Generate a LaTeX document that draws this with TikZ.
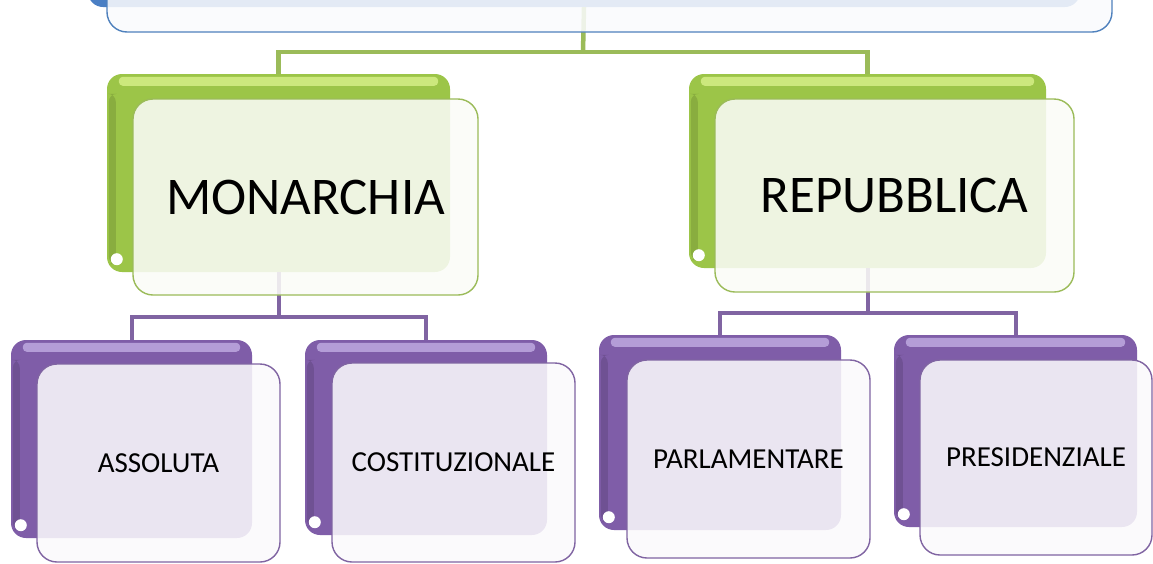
\documentclass[tikz,border=0pt]{standalone}
\usepackage{fontspec}
\setmainfont{Carlito}
\definecolor{gline}{HTML}{9BBB59}
\definecolor{gback}{HTML}{9CC548}
\definecolor{ghi}{HTML}{DDF590}
\definecolor{pline}{HTML}{8064A2}
\definecolor{pback}{HTML}{7F5DA8}
\definecolor{phi}{HTML}{C7B3E8}
\definecolor{bline}{HTML}{4F81BD}
\definecolor{bback}{HTML}{4A7FC4}
\tikzset{
  gconn/.style={draw=gline, line width=4.5pt},
  pconn/.style={draw=pline, line width=4pt},
  backbox/.style={rectangle, rounded corners=15pt, inner sep=0pt},
  gbackbox/.style={backbox, fill=gback},
  pbackbox/.style={backbox, fill=pback},
  frontbox/.style={rectangle, rounded corners=20pt, inner sep=0pt, line width=1.4pt, fill opacity=0.87, text opacity=1, draw opacity=1},
  gfront/.style={frontbox, draw=gline, fill=white!96!gline},
  pfront/.style={frontbox, draw=pline, fill=white!97!pline},
  bigtxt/.style={font=\fontsize{53}{58}\selectfont},
  smalltxt/.style={font=\fontsize{29}{33}\selectfont},
}
\begin{document}
\begin{tikzpicture}[x=1pt,y=-1pt]
\useasboundingbox (0,0) rectangle (1153,563);
\clip (0,0) rectangle (1153,563);
\fill[white] (0,0) rectangle (1153,563);

% top back box
\node[backbox, fill=bback, minimum width=992pt, minimum height=67pt] (topback) at (584,-26.5) {};
% connector junctions
\coordinate (gj) at (583,52);
\coordinate (pl) at (278.5,317);
\coordinate (pr) at (867.5,313);
\node[gbackbox, minimum width=343pt, minimum height=198pt] (mb) at (278.5,173) {};
\node[gbackbox, minimum width=357pt, minimum height=194pt] (rb) at (867.5,171) {};
\node[pbackbox, minimum width=241pt, minimum height=198pt] (ab) at (131.5,439) {};
\node[pbackbox, minimum width=242pt, minimum height=195pt] (cb) at (426,437.5) {};
\node[pbackbox, minimum width=242pt, minimum height=195pt] (pb) at (720,432.5) {};
\node[pbackbox, minimum width=243pt, minimum height=192pt] (sb) at (1015.5,431) {};

\draw[gconn] (topback.south) -- (gj);
\draw[gconn] (mb.north) |- (gj) -| (rb.north);
\draw[pconn] (mb.south) -- (pl);
\draw[pconn] (ab.north) |- (pl) -| (cb.north);
\draw[pconn] (rb.south) -- (pr);
\draw[pconn] (pb.north) |- (pr) -| (sb.north);

% glossy highlights on back boxes
\foreach \b/\hc in {mb/ghi, rb/ghi, ab/phi, cb/phi, pb/phi, sb/phi} {
  \fill[\hc, opacity=0.75, rounded corners=4pt] ([xshift=12pt,yshift=-3pt]\b.north west) rectangle ([xshift=-12pt,yshift=-12pt]\b.north east);
  \fill[black, opacity=0.12, rounded corners=8pt] ([xshift=2pt,yshift=8pt]\b.south west) rectangle ([xshift=9pt,yshift=-20pt]\b.north west);
  \fill[white] ([xshift=10pt,yshift=13pt]\b.south west) circle (6pt);
}

% front boxes
\node[frontbox, draw=bline, fill=white!97!bline, minimum width=1005pt, minimum height=92pt] (topfront) at (609.5,-14) {};
\node[gfront, bigtxt, minimum width=345pt, minimum height=196pt] (mf) at (305.5,197) {MONARCHIA};
\node[gfront, bigtxt, minimum width=359pt, minimum height=193pt] (rf) at (894.5,195.5) {REPUBBLICA};
\node[pfront, smalltxt, minimum width=243pt, minimum height=198pt] (af) at (158.5,463) {ASSOLUTA};
\node[pfront, smalltxt, minimum width=243pt, minimum height=199pt] (cf) at (453.5,462.5) {COSTITUZIONALE};
\node[pfront, smalltxt, minimum width=243pt, minimum height=198pt] (pf) at (748.5,459) {PARLAMENTARE};
\node[pfront, smalltxt, minimum width=232pt, minimum height=195pt] (sf) at (1036,457.5) {PRESIDENZIALE};
\end{tikzpicture}
\end{document}
